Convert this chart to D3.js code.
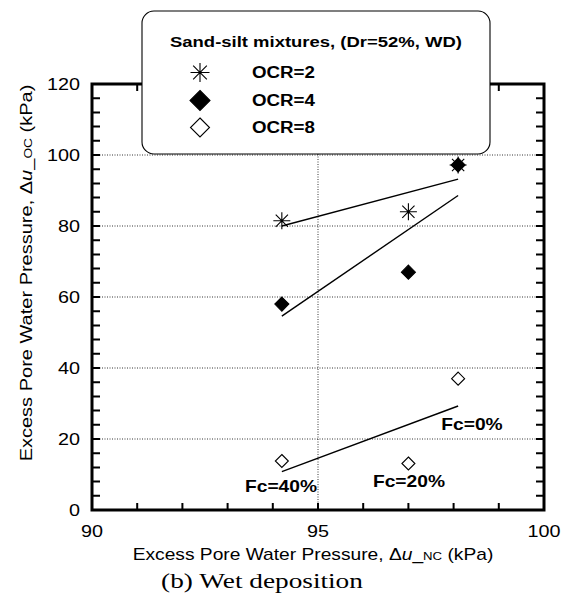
<!DOCTYPE html>
<html>
<head>
<meta charset="utf-8">
<script src="https://cdn.jsdelivr.net/npm/d3@7"></script>
<style>
  html, body { margin: 0; padding: 0; background: #fff; }
  svg { display: block; }
  text { font-family: Arial, "Liberation Sans", sans-serif; }
</style>
</head>
<body>
<svg id="chart" width="569" height="597"></svg>
<script>
// Excess pore water pressure, normally consolidated vs over-consolidated (kPa)
const fcLabels = ["Fc=40%", "Fc=20%", "Fc=0%"];
const duNC = [94.2, 97.0, 98.1];
const ocr2 = [81.5, 84.0, 97.2];
const ocr4 = [58.0, 67.0, 97.2];
const ocr8 = [13.8, 13.1, 37.0];

// trend lines drawn between the lowest and highest Δu_NC
const fitX = [94.2, 98.1];
const fitOCR2 = [80.0, 93.2];
const fitOCR4 = [54.6, 88.6];
const fitOCR8 = [10.8, 29.3];

const xTicks = [90, 95, 100];
const yTicks = [0, 20, 40, 60, 80, 100, 120];
const legendTitle = "Sand-silt mixtures, (Dr=52%, WD)";
const legendLabels = ["OCR=2", "OCR=4", "OCR=8"];

const svg = d3.select("#chart");
const L = 92, R = 544, T = 84, B = 510;
const WIDE = 1.2; // horizontal widening of the lettering

const x = d3.scaleLinear().domain([90, 100]).range([L, R]);
const y = d3.scaleLinear().domain([0, 120]).range([B, T]);

// widen a text element horizontally about its anchor point
function widen(sel, k = WIDE) {
  sel.each(function () {
    const t = d3.select(this), px = +t.attr("x"), py = +t.attr("y");
    t.attr("transform", `translate(${px},${py}) scale(${k},1) translate(${-px},${-py})`);
  });
}

// dotted grid
const gridPath = yTicks.filter(v => v > 0 && v < 120)
  .map(v => `M${L},${y(v)}H${R}`).join("") + `M${x(95)},${T}V${B}`;
svg.append("path").attr("d", gridPath).attr("fill", "none")
  .attr("stroke", "#000").attr("stroke-width", 0.8).attr("stroke-dasharray", "1,1.5");

// inward tick marks on all four sides
const minorY = d3.range(0, 121, 4);
const minorX = d3.range(90, 101, 1);
const tickPath =
  minorY.map(v => `M${L},${y(v)}h8M${R},${y(v)}h-8`).join("") +
  minorX.map(v => `M${x(v)},${B}v-7M${x(v)},${T}v7`).join("");
svg.append("path").attr("d", tickPath).attr("fill", "none")
  .attr("stroke", "#000").attr("stroke-width", 2);

// frame
svg.append("path").attr("d", `M${L},${T}H${R}V${B}H${L}Z`)
  .attr("fill", "none").attr("stroke", "#000").attr("stroke-width", 3);

// tick labels
svg.append("g").selectAll("text").data(yTicks).join("text")
  .attr("x", 80).attr("y", d => y(d) + 6)
  .attr("text-anchor", "end").attr("font-size", 16.5).text(d => d).call(widen);
svg.append("g").selectAll("text").data(xTicks).join("text")
  .attr("x", d => x(d)).attr("y", 537)
  .attr("text-anchor", "middle").attr("font-size", 16.5).text(d => d).call(widen);

// axis titles
const xt = svg.append("text").attr("x", 313).attr("y", 560)
  .attr("text-anchor", "middle").attr("font-size", 16);
xt.append("tspan").text("Excess Pore Water Pressure, Δ");
xt.append("tspan").attr("font-style", "italic").text("u");
xt.append("tspan").text("_");
xt.append("tspan").attr("font-size", 11).text("NC");
xt.append("tspan").text(" (kPa)");
xt.call(widen);

// vertical title, lengthened along its own reading direction
const yt = svg.append("text").attr("transform", "translate(31.5,273) rotate(-90) scale(1.25,1)")
  .attr("text-anchor", "middle").attr("font-size", 16);
yt.append("tspan").text("Excess Pore Water Pressure, Δ");
yt.append("tspan").attr("font-style", "italic").text("u");
yt.append("tspan").text("_");
yt.append("tspan").attr("font-size", 11).text("OC");
yt.append("tspan").text(" (kPa)");

// caption
svg.append("text").attr("x", 262).attr("y", 588).attr("text-anchor", "middle")
  .attr("font-size", 22).style("font-family", "'Times New Roman', 'Liberation Serif', serif")
  .text("(b) Wet deposition").call(widen, 1.24);

// trend lines
const line = d3.line().x(d => x(d[0])).y(d => y(d[1]));
[fitOCR2, fitOCR4, fitOCR8].forEach(f => {
  svg.append("path").datum(fitX.map((v, i) => [v, f[i]]))
    .attr("d", line).attr("fill", "none").attr("stroke", "#000").attr("stroke-width", 1.4);
});

// marker shapes
const diamond = (g, cx, cy, r, filled) =>
  g.append("path").attr("d", `M${cx},${cy - r}L${cx + r},${cy}L${cx},${cy + r}L${cx - r},${cy}Z`)
    .attr("fill", filled ? "#000" : "#fff").attr("stroke", "#000").attr("stroke-width", 1.1);
const asterisk = (g, cx, cy, r) => {
  const d = r * 0.72;
  g.append("path").attr("d",
      `M${cx},${cy - r}V${cy + r}M${cx - r},${cy}H${cx + r}` +
      `M${cx - d},${cy - d}L${cx + d},${cy + d}M${cx - d},${cy + d}L${cx + d},${cy - d}`)
    .attr("fill", "none").attr("stroke", "#000").attr("stroke-width", 1.1);
};

const pts = svg.append("g");
duNC.forEach((v, i) => diamond(pts, x(v), y(ocr8[i]), 6.5, false));
duNC.forEach((v, i) => diamond(pts, x(v), y(ocr4[i]), 7, true));
duNC.forEach((v, i) => asterisk(pts, x(v), y(ocr2[i]), 8.5));

// fines content labels
const fcPos = [[281, 492], [409, 487], [472, 430]];
svg.append("g").selectAll("text").data(fcLabels).join("text")
  .attr("x", (d, i) => fcPos[i][0]).attr("y", (d, i) => fcPos[i][1])
  .attr("text-anchor", "middle").attr("font-size", 16).attr("font-weight", "bold")
  .text(d => d).call(widen);

// legend
const lg = svg.append("g");
lg.append("rect").attr("x", 142).attr("y", 11).attr("width", 348).attr("height", 143)
  .attr("rx", 12).attr("ry", 12).attr("fill", "#fff").attr("stroke", "#000").attr("stroke-width", 1.1);
lg.append("text").attr("x", 316).attr("y", 47).attr("text-anchor", "middle")
  .attr("font-size", 15.4).attr("font-weight", "bold").text(legendTitle).call(widen);
const rowY = [72.5, 100.5, 127.5];
asterisk(lg, 200, rowY[0], 9.5);
diamond(lg, 200, rowY[1], 10, true);
diamond(lg, 200, rowY[2], 9.5, false);
lg.selectAll("text.item").data(legendLabels).join("text").attr("class", "item")
  .attr("x", 252).attr("y", (d, i) => rowY[i] + 5.5)
  .attr("font-size", 15.6).attr("font-weight", "bold").text(d => d).call(widen);
</script>
</body>
</html>
